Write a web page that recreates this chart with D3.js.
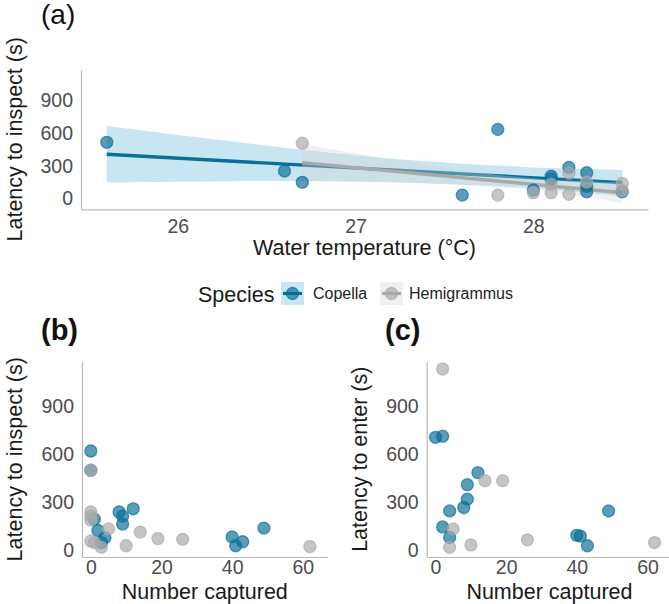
<!DOCTYPE html>
<html>
<head>
<meta charset="utf-8">
<script src="https://cdn.jsdelivr.net/npm/d3@7"></script>
<style>
  body { margin: 0; background: #fff; }
  text { font-family: "Liberation Sans", Arial, sans-serif; }
</style>
</head>
<body>
<div id="chart"></div>
<script>
// Panel (a): water temperature vs latency to inspect
const tempCopella    = [25.6, 26.6, 26.7, 27.6, 27.8, 28.0, 28.1, 28.1, 28.2, 28.3, 28.3, 28.3, 28.5];
const inspCopellaA   = [517, 252, 148, 30, 636, 77, 205, 180, 286, 236, 110, 60, 61];
const tempHemi       = [26.7, 27.8, 28.0, 28.1, 28.1, 28.2, 28.2, 28.3, 28.5, 28.5];
const inspHemiA      = [508, 30, 52, 52, 130, 231, 37, 150, 138, 70];

// fitted lines (ends) and confidence bands
const fitTempCopella = [25.6, 28.5];
const fitCopella     = [406, 145];
const fitTempHemi    = [26.7, 28.5];
const fitHemi        = [329, 52];
const bandTempCopella  = [25.6, 26.0, 26.4, 26.8, 27.2, 27.6, 28.0, 28.5];
const bandLowCopella   = [145, 153, 160, 160, 150, 125, 95, 20];
const bandHighCopella  = [667, 585, 505, 430, 365, 320, 285, 262];
const bandTempHemi     = [26.7, 27.0, 27.4, 27.8, 28.1, 28.5];
const bandLowHemi      = [160, 150, 140, 112, 60, -42];
const bandHighHemi     = [500, 415, 305, 215, 170, 146];

// Panel (b): number captured vs latency to inspect
const capCopellaB  = [0, 0, 1, 2, 3, 4, 8, 9, 9, 12, 40, 41, 43, 49];
const inspCopellaB = [620, 500, 195, 125, 50, 80, 240, 215, 165, 260, 85, 30, 55, 140];
const capHemiB     = [0, 0, 0, 0, 0, 1, 3, 5, 10, 14, 19, 26, 62];
const inspHemiB    = [500, 240, 215, 190, 60, 50, 20, 135, 30, 115, 75, 70, 25];

// Panel (c): number captured vs latency to enter
const capCopellaC   = [0, 2, 12, 9, 9, 8, 4, 2, 4, 40, 41, 43, 49];
const enterCopellaC = [705, 712, 485, 410, 320, 268, 247, 147, 82, 95, 90, 30, 247];
const capHemiC      = [2, 14, 19, 5, 4, 10, 26, 62];
const enterHemiC    = [1130, 435, 435, 135, 20, 35, 67, 50];

const yTicks = [0, 300, 600, 900];
const tempTicks = [26, 27, 28];
const capTicks = [0, 20, 40, 60];
const species = ["Copella", "Hemigrammus"];

const colors = { Copella: "#0a6f96", Hemigrammus: "#a9a9a9" };
const bandColors = { Copella: "#8fcde6", Hemigrammus: "#d3d3d3" };
const bandOpacity = { Copella: 0.5, Hemigrammus: 0.35 };

const svg = d3.select("#chart").append("svg")
    .attr("width", 669)
    .attr("height", 604);

const tickFont = 19.5;
const titleFont = 21.5;

function zip(xs, ys) {
    return xs.map((x, i) => ({ x: x, y: ys[i] }));
}

// Draw a panel's axes and titles, return scales
function drawAxes(cfg) {
    const x = d3.scaleLinear().domain(cfg.xDomain).range(cfg.xRange);
    const y = d3.scaleLinear().domain(cfg.yDomain).range(cfg.yRange);

    const xAxis = svg.append("g")
        .attr("transform", `translate(0,${cfg.yRange[0]})`)
        .call(d3.axisBottom(x).tickValues(cfg.xTicks).tickFormat(d3.format("d"))
            .tickSize(0).tickSizeOuter(0).tickPadding(cfg.xPad));
    const yAxis = svg.append("g")
        .attr("transform", `translate(${cfg.xRange[0]},0)`)
        .call(d3.axisLeft(y).tickValues(yTicks).tickSize(0).tickSizeOuter(0).tickPadding(8));

    [xAxis, yAxis].forEach(g => {
        g.select(".domain").attr("stroke", "#b8b8b8").attr("stroke-width", 1.2);
        g.selectAll("text")
            .attr("font-size", tickFont)
            .attr("fill", "#4d4d4d")
            .style("font-family", "'Liberation Sans', Arial, sans-serif");
    });

    svg.append("text")
        .attr("x", (cfg.xRange[0] + cfg.xRange[1]) / 2)
        .attr("y", cfg.yRange[0] + cfg.xTitleGap)
        .attr("text-anchor", "middle")
        .attr("font-size", titleFont)
        .attr("fill", "#1a1a1a")
        .text(cfg.xTitle);

    svg.append("text")
        .attr("transform", `translate(${cfg.yTitleX},${(cfg.yRange[0] + cfg.yRange[1]) / 2}) rotate(-90)`)
        .attr("text-anchor", "middle")
        .attr("font-size", titleFont)
        .attr("fill", "#1a1a1a")
        .text(cfg.yTitle);

    svg.append("text")
        .attr("x", cfg.tagX)
        .attr("y", cfg.tagY)
        .attr("font-size", cfg.tagSize)
        .attr("font-weight", cfg.tagWeight)
        .attr("fill", "#111")
        .text(cfg.tag);

    return { x, y };
}

function drawPoints(sc, pts, sp) {
    svg.append("g").selectAll("circle")
        .data(pts)
        .enter()
        .append("circle")
        .attr("cx", d => sc.x(d.x))
        .attr("cy", d => sc.y(d.y))
        .attr("r", 6)
        .attr("fill", colors[sp])
        .attr("fill-opacity", 0.68)
        .attr("stroke", colors[sp])
        .attr("stroke-opacity", 0.68)
        .attr("stroke-width", 1.3);
}

// ---------- Panel (a)
const a = drawAxes({
    xDomain: [25.455, 28.645], xRange: [81, 648],
    yDomain: [-101, 1190], yRange: [209.3, 69.3],
    xTicks: tempTicks, xPad: 10, xTitleGap: 46,
    xTitle: "Water temperature (°C)",
    yTitle: "Latency to inspect (s)", yTitleX: 22,
    tag: "(a)", tagX: 41, tagY: 24, tagSize: 28, tagWeight: "normal"
});

const bands = {
    Copella: bandTempCopella.map((t, i) => ({ x: t, lo: bandLowCopella[i], hi: bandHighCopella[i] })),
    Hemigrammus: bandTempHemi.map((t, i) => ({ x: t, lo: bandLowHemi[i], hi: bandHighHemi[i] }))
};
const fits = {
    Copella: zip(fitTempCopella, fitCopella),
    Hemigrammus: zip(fitTempHemi, fitHemi)
};

const area = d3.area()
    .x(d => a.x(d.x))
    .y0(d => a.y(d.lo))
    .y1(d => a.y(d.hi));
const line = d3.line()
    .x(d => a.x(d.x))
    .y(d => a.y(d.y));

species.forEach(sp => {
    svg.append("path")
        .datum(bands[sp])
        .attr("d", area)
        .attr("fill", bandColors[sp])
        .attr("fill-opacity", bandOpacity[sp]);
    svg.append("path")
        .datum(fits[sp])
        .attr("d", line)
        .attr("fill", "none")
        .attr("stroke", colors[sp])
        .attr("stroke-width", 3.4);
});

drawPoints(a, zip(tempCopella, inspCopellaA), "Copella");
drawPoints(a, zip(tempHemi, inspHemiA), "Hemigrammus");

// ---------- Legend
const legend = svg.append("g");
legend.append("text")
    .attr("x", 198).attr("y", 302)
    .attr("font-size", titleFont)
    .attr("fill", "#1a1a1a")
    .text("Species");

const keyX = [281, 380];
const labelX = [313, 409];
species.forEach((sp, i) => {
    const k = legend.append("g").attr("transform", `translate(${keyX[i]},282)`);
    k.append("rect")
        .attr("width", 23).attr("height", 23)
        .attr("fill", bandColors[sp])
        .attr("fill-opacity", bandOpacity[sp]);
    k.append("line")
        .attr("x1", 2).attr("x2", 21)
        .attr("y1", 11.5).attr("y2", 11.5)
        .attr("stroke", colors[sp])
        .attr("stroke-width", 3.2);
    k.append("circle")
        .attr("cx", 11.5).attr("cy", 11.5).attr("r", 6)
        .attr("fill", colors[sp]).attr("fill-opacity", 0.68)
        .attr("stroke", colors[sp]).attr("stroke-opacity", 0.68)
        .attr("stroke-width", 1.3);
    legend.append("text")
        .attr("x", labelX[i]).attr("y", 299)
        .attr("font-size", 16)
        .attr("fill", "#222")
        .text(sp);
});

// ---------- Panel (b)
const b = drawAxes({
    xDomain: [-2.5, 67], xRange: [82, 327.5],
    yDomain: [-40, 1177], yRange: [557, 361.5],
    xTicks: capTicks, xPad: 3, xTitleGap: 42,
    xTitle: "Number captured",
    yTitle: "Latency to inspect (s)", yTitleX: 22,
    tag: "(b)", tagX: 41, tagY: 340, tagSize: 29, tagWeight: "bold"
});
drawPoints(b, zip(capCopellaB, inspCopellaB), "Copella");
drawPoints(b, zip(capHemiB, inspHemiB), "Hemigrammus");

// ---------- Panel (c)
const c = drawAxes({
    xDomain: [-2.5, 67], xRange: [426.7, 672.2],
    yDomain: [-40, 1177], yRange: [557, 361.5],
    xTicks: capTicks, xPad: 3, xTitleGap: 42,
    xTitle: "Number captured",
    yTitle: "Latency to enter (s)", yTitleX: 367,
    tag: "(c)", tagX: 385, tagY: 340, tagSize: 29, tagWeight: "bold"
});
drawPoints(c, zip(capCopellaC, enterCopellaC), "Copella");
drawPoints(c, zip(capHemiC, enterHemiC), "Hemigrammus");
</script>
</body>
</html>
